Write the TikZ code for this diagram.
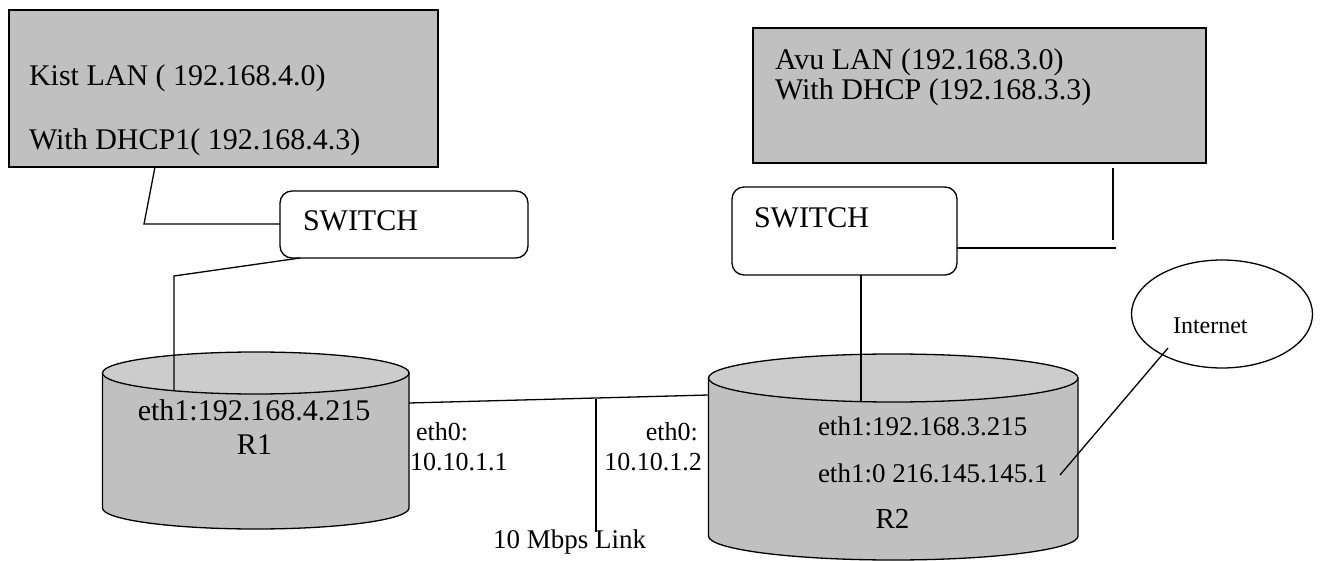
\documentclass[tikz,border=0pt]{standalone}
\usepackage{fontspec}
\setmainfont{Liberation Serif}
\usetikzlibrary{shapes.geometric}
\definecolor{lanfill}{HTML}{C0C0C0}
\definecolor{cyltop}{HTML}{CCCCCC}
\newcommand{\fsz}[1]{\fontsize{#1}{#1}\selectfont}
\tikzset{
  wire/.style={line width=1.3pt},
  lanbox/.style={draw, line width=1.3pt, fill=lanfill, anchor=north west,
    inner sep=0pt, outer sep=0pt},
  switchbox/.style={draw, line width=1.3pt, fill=white, rounded corners=12pt,
    anchor=north west, inner sep=0pt, outer sep=0pt},
  lbl/.style={inner sep=0pt, outer sep=0pt, anchor=base west},
  cylbody/.style={draw, line width=1.3pt, fill=lanfill},
  cylcap/.style={draw, line width=1.3pt, fill=cyltop},
}
\begin{document}
\begin{tikzpicture}[x=1pt,y=-1pt]
\useasboundingbox (0,0) rectangle (1320,561);

% ---------- LAN boxes ----------
\node (kist) [lanbox, minimum width=429pt, minimum height=157pt] at (9,10) {};
\node (kist1) [lbl] at (29,86) {\fsz{30}Kist LAN ( 192.168.4.0)};
\node (kist2) [lbl] at (29,150) {\fsz{30}With DHCP1( 192.168.4.3)};

\node (avu) [lanbox, minimum width=453pt, minimum height=135pt] at (753,28) {};
\node (avu1) [lbl] at (775,70) {\fsz{30}Avu LAN (192.168.3.0)};
\node (avu2) [lbl] at (775,100) {\fsz{30}With DHCP (192.168.3.3)};

% ---------- switches ----------
\node (swA) [switchbox, minimum width=248pt, minimum height=67pt] at (280,191) {};
\node (swAt) [lbl] at (303,231) {\fsz{30}SWITCH};

\node (swB) [switchbox, minimum width=225pt, minimum height=88pt] at (732,187) {};
\node (swBt) [lbl] at (754,228) {\fsz{30}SWITCH};

% ---------- router R1 (cylinder) ----------
\draw[cylbody] (102.5,373) -- (102.5,508)
  arc[start angle=180, end angle=0, x radius=153.25, y radius=21]
  -- (409,373) -- cycle;
\draw[cylcap] (255.75,373) ellipse [x radius=153.25, y radius=21];
\node (r1a) [inner sep=0pt, anchor=base] at (254,420) {\fsz{30}eth1:192.168.4.215};
\node (r1b) [inner sep=0pt, anchor=base] at (254.5,454) {\fsz{30}R1};

% ---------- router R2 (cylinder) ----------
\draw[cylbody] (708.5,378) -- (708.5,536)
  arc[start angle=180, end angle=0, x radius=184.75, y radius=24]
  -- (1078,378) -- cycle;
\draw[cylcap] (893.25,378) ellipse [x radius=184.75, y radius=24];
\node (r2a) [lbl] at (818,435) {\fsz{27}eth1:192.168.3.215};
\node (r2b) [lbl] at (818,482) {\fsz{27}eth1:0 216.145.145.1};
\node (r2c) [inner sep=0pt, anchor=base] at (892.5,528) {\fsz{29}R2};

% ---------- Internet ----------
\node (inet) [ellipse, draw, line width=1.3pt, minimum width=181pt,
  minimum height=108pt, inner sep=0pt] at (1222,314) {};
\node (inett) [lbl] at (1173,334) {\fsz{24}Internet};

% ---------- link labels ----------
\node (e0a) [lbl] at (416,440) {\fsz{26}eth0:};
\node (e0b) [lbl] at (410,470) {\fsz{26}10.10.1.1};
\node (e1a) [inner sep=0pt, anchor=base east] at (698,440) {\fsz{26}eth0:};
\node (e1b) [inner sep=0pt, anchor=base east] at (702,470) {\fsz{26}10.10.1.2};
\node (link) [lbl] at (493,548) {\fsz{27}10 Mbps Link};

% ---------- connection points ----------
\coordinate (kistOut) at (155,167);
\coordinate (kistBend) at (144,224);
\coordinate (swAin) at (280,224);
\coordinate (swAout) at (300,258);
\coordinate (r1Bend) at (174,276);
\coordinate (r1Top) at (174,391);
\coordinate (r1Eth) at (409,403);
\coordinate (r2Eth) at (708.5,395);
\coordinate (tap) at (596,399);
\coordinate (tapEnd) at (596,532);
\coordinate (swBout) at (861,275);
\coordinate (r2Top) at (861,402);
\coordinate (avuOut) at (1113,168);
\coordinate (avuEnd) at (1113,240);
\coordinate (swBin) at (957,248);
\coordinate (avuRun) at (1116,248);
\coordinate (r2Inet) at (1060,475);
\coordinate (inetIn) at (1168,348);

% ---------- wires ----------
\draw[wire] (kistOut) -- (kistBend) -- (swAin);
\draw[wire] (swAout) -- (r1Bend) -- (r1Top);
\draw[wire] (r1Eth) -- (r2Eth);
\draw[wire] (tap) -- (tapEnd);
\draw[wire] (swBout) -- (r2Top);
\draw[wire] (avuOut) -- (avuEnd);
\draw[wire] (swBin) -- (avuRun);
\draw[wire] (r2Inet) -- (inetIn);
\end{tikzpicture}
\end{document}
